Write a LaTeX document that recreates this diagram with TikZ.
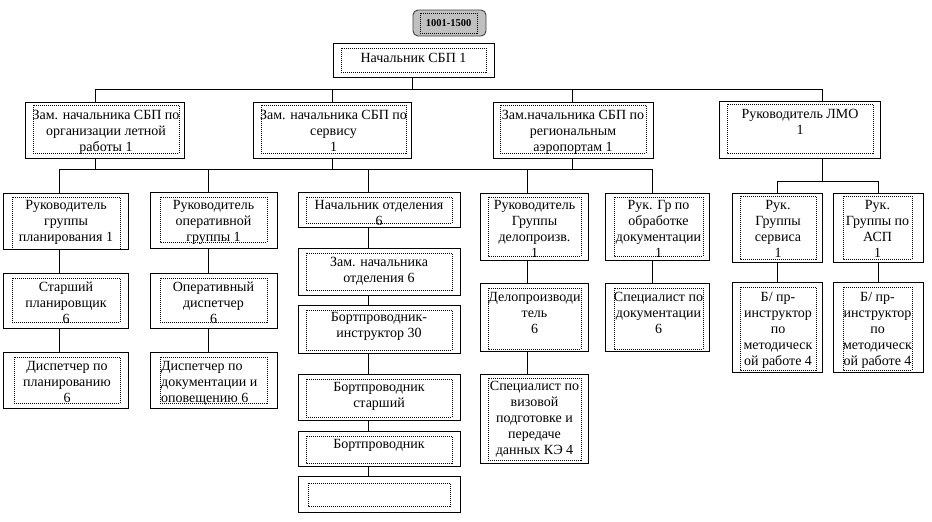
\documentclass[tikz,border=0pt]{standalone}
\usepackage{fontspec}
\setmainfont{Liberation Serif}
\tikzset{
  obox/.style={draw, line width=0.9pt, inner sep=0pt, fill=white},
  ibox/.style={line width=0.6pt, dash pattern=on 1pt off 1pt},
  txt/.style={font=\fontsize{14}{16}\selectfont, align=center, inner sep=0pt},
  txtl/.style={font=\fontsize{14}{16}\selectfont, align=left, inner sep=0pt},
  conn/.style={line width=0.9pt},
}
\newcommand{\orgbox}[9]{%
  \node[obox, minimum width={(#4-#2)*1pt}, minimum height={(#5-#3)*1pt}] (#1) at ({(#2+#4)/2},{(#3+#5)/2}) {};
  \draw[ibox] (#6,#7) rectangle (#8,#9);
  \coordinate (#1-a) at (#2,#7);
  \coordinate (#1-b) at (#4,{#9+1.2});
}
\newcommand{\otext}[4]{%
  \begin{scope}
    \clip (#1-a) rectangle (#1-b);
    \node[txt, anchor=north] (#1-t) at (#2,{#3-11.2}) {\strut #4};
  \end{scope}
}
\newcommand{\otextl}[4]{%
  \begin{scope}
    \clip (#1-a) rectangle (#1-b);
    \node[txtl, anchor=north west] (#1-t) at (#2,{#3-11.2}) {\strut #4};
  \end{scope}
}
\begin{document}
\begin{tikzpicture}[x=1pt,y=-1pt]
\fill[white] (0,0) rectangle (932,522);
\useasboundingbox (0,0) rectangle (932,522);

% helper coordinates
\coordinate (xN) at (412,0);
\coordinate (xA) at (95,0);
\coordinate (xB) at (332,0);
\coordinate (xC) at (572,0);
\coordinate (xD) at (822,0);
\coordinate (xE) at (59,0);
\coordinate (xF) at (208,0);
\coordinate (xG) at (368,0);
\coordinate (xH) at (527,0);
\coordinate (xI) at (652,0);
\coordinate (xJ) at (777,0);
\coordinate (xK) at (878,0);
\coordinate (bus1) at (0,89);
\coordinate (bus2) at (0,169);
\coordinate (bus3) at (0,181);

% label box
\node[draw=black!75, line width=0.9pt, rounded corners=5pt,
      fill={rgb,255:red,192;green,192;blue,192},
      minimum width=73pt, minimum height=26pt, inner sep=0pt] (lbl) at (449.5,23) {};
\draw[ibox] (420,13) rectangle (477,33);
\node[font=\bfseries\fontsize{10.5}{12}\selectfont, anchor=base, inner sep=0pt] (lbltxt) at (448.5,26.5) {1001-1500};

% level 1
\orgbox{nach}{333}{43}{494}{77}{341}{48}{486}{72}
\otext{nach}{413.5}{62.5}{Начальник СБП 1}

% level 2
\orgbox{A}{25}{102}{184}{158}{33}{105}{179}{153}
\otext{A}{106}{119}{Зам. начальника СБП по\\организации летной\\работы 1}
\orgbox{B}{253}{102}{411}{158}{261}{105}{406}{153}
\otext{B}{333.5}{119}{Зам. начальника СБП по\\сервису\\1}
\orgbox{C}{493}{102}{653}{158}{500}{105}{646}{153}
\otext{C}{573}{119}{Зам.начальника СБП по\\региональным\\аэропортам 1}
\orgbox{D}{719}{101}{880}{158}{727}{104}{873}{153}
\otext{D}{800}{118}{Руководитель ЛМО\\1}

% column E
\orgbox{E1}{3}{193}{128}{249}{12}{197}{120}{249}
\otext{E1}{66}{209}{Руководитель\\группы\\планирования 1}
\orgbox{E2}{3}{273}{128}{328}{12}{278}{120}{322}
\otext{E2}{66}{291}{Старший\\планировщик\\6}
\orgbox{E3}{3}{352}{128}{408}{14}{357}{120}{403}
\otext{E3}{67}{370.5}{Диспетчер по\\планированию\\6}

% column F
\orgbox{F1}{150}{192}{277}{248}{160}{197}{267}{242}
\otext{F1}{213.5}{209}{Руководитель\\оперативной\\группы 1}
\orgbox{F2}{150}{273}{277}{328}{160}{278}{267}{322}
\otext{F2}{213.5}{291}{Оперативный\\диспетчер\\6}
\orgbox{F3}{150}{352}{277}{408}{160}{357}{267}{403}
\otextl{F3}{161}{370.5}{Диспетчер по\\документации и\\оповещению 6}

% column G
\orgbox{G1}{298}{192}{460}{227}{306}{197}{452}{223}
\otext{G1}{379}{209}{Начальник отделения\\6}
\orgbox{G2}{298}{248}{460}{295}{306}{253}{452}{290}
\otext{G2}{379}{266}{Зам. начальника\\отделения 6}
\orgbox{G3}{298}{305}{460}{353}{306}{310}{452}{350}
\otext{G3}{379}{321.7}{Бортпроводник-\\инструктор 30}
\orgbox{G4}{298}{374}{460}{420}{306}{379}{452}{417}
\otext{G4}{379}{391.7}{Бортпроводник\\старший}
\orgbox{G5}{298}{431}{460}{466}{306}{436}{452}{463}
\otext{G5}{379}{448}{Бортпроводник}
\orgbox{G6}{298}{476}{460}{512}{308}{483}{450}{506}

% column H
\orgbox{H1}{480}{193}{588}{260}{488}{197}{581}{256}
\otext{H1}{534.5}{209}{Руководитель\\Группы\\делопроизв.\\1}
\orgbox{H2}{480}{283}{588}{351}{488}{288}{581}{349}
\otext{H2}{534.5}{301.7}{Делопроизводи\\тель\\6}
\orgbox{H3}{480}{374}{588}{463}{488}{378}{581}{460}
\otext{H3}{534.5}{390}{Специалист по\\визовой\\подготовке и\\передаче\\данных КЭ 4}

% column I
\orgbox{I1}{605}{193}{709}{260}{614}{197}{703}{256}
\otext{I1}{658.5}{209}{Рук. Гр по\\обработке\\документации\\1}
\orgbox{I2}{605}{283}{709}{351}{614}{288}{703}{349}
\otext{I2}{658.5}{301.7}{Специалист по\\документации\\6}

% column J
\orgbox{J1}{732}{193}{822}{262}{740}{196}{816}{259}
\otext{J1}{778}{209}{Рук.\\Группы\\сервиса\\1}
\orgbox{J2}{732}{282}{822}{372}{740}{287}{816}{370}
\otext{J2}{778}{301.7}{Б/ пр-\\инструктор\\по\\методическ\\ой работе 4}

% column K
\orgbox{K1}{833}{193}{923}{262}{843}{196}{912}{259}
\otext{K1}{877.5}{209}{Рук.\\Группы по\\АСП\\1}
\orgbox{K2}{833}{282}{923}{372}{843}{287}{912}{370}
\otext{K2}{877.5}{301.7}{Б/ пр-\\инструктор\\по\\методическ\\ой работе 4}

% connectors level 1 -> 2
\draw[conn] (nach.south -| xN) -- (bus1 -| xN);
\draw[conn] (A.north -| xA) |- (bus1 -| xD) -- (D.north -| xD);
\draw[conn] (bus1 -| xB) -- (B.north -| xB);
\draw[conn] (bus1 -| xC) -- (C.north -| xC);

% connectors level 2 -> 3
\draw[conn] (E1.north -| xE) |- (bus2 -| xI) -- (I1.north -| xI);
\draw[conn] (A.south -| xA) -- (bus2 -| xA);
\draw[conn] (B.south -| xB) -- (bus2 -| xB);
\draw[conn] (C.south -| xC) -- (bus2 -| xC);
\draw[conn] (bus2 -| xF) -- (F1.north -| xF);
\draw[conn] (bus2 -| xG) -- (G1.north -| xG);
\draw[conn] (bus2 -| xH) -- (H1.north -| xH);
\draw[conn] (D.south -| xD) -- (bus3 -| xD);
\draw[conn] (J1.north -| xJ) |- (bus3 -| xK) -- (K1.north -| xK);

% column connectors
\draw[conn] (E1.south -| xE) -- (E2.north -| xE);
\draw[conn] (E2.south -| xE) -- (E3.north -| xE);
\draw[conn] (F1.south -| xF) -- (F2.north -| xF);
\draw[conn] (F2.south -| xF) -- (F3.north -| xF);
\draw[conn] (G1.south -| xG) -- (G2.north -| xG);
\draw[conn] (G2.south -| xG) -- (G3.north -| xG);
\draw[conn] (G3.south -| xG) -- (G4.north -| xG);
\draw[conn] (G4.south -| xG) -- (G5.north -| xG);
\draw[conn] (G5.south -| xG) -- (G6.north -| xG);
\draw[conn] (H1.south -| xH) -- (H2.north -| xH);
\draw[conn] (H2.south -| xH) -- (H3.north -| xH);
\draw[conn] (I1.south -| xI) -- (I2.north -| xI);
\draw[conn] (J1.south -| xJ) -- (J2.north -| xJ);
\draw[conn] (K1.south -| xK) -- (K2.north -| xK);
\end{tikzpicture}
\end{document}
